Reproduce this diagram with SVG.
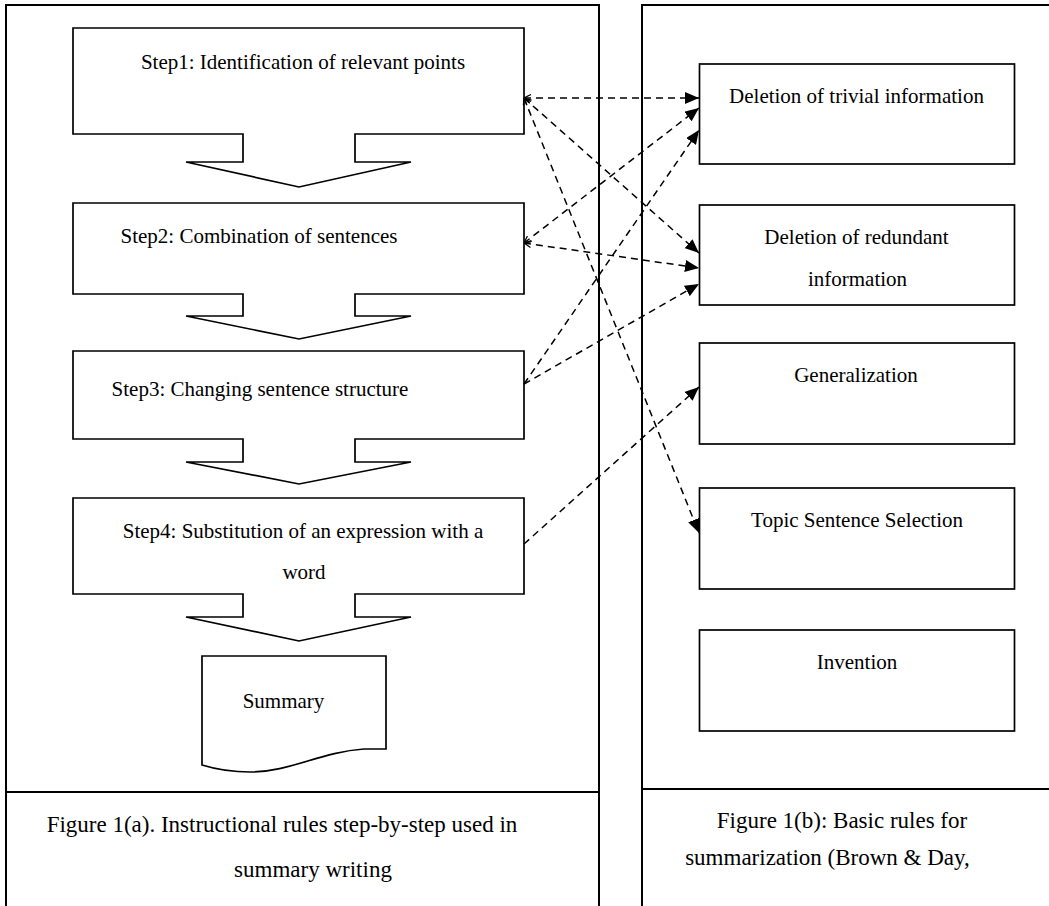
<svg xmlns="http://www.w3.org/2000/svg" width="1049" height="906" viewBox="0 0 1049 906">
<style>
.frame{fill:none;stroke:#000;stroke-width:2}
.shape{fill:#fff;stroke:#000;stroke-width:1.7;stroke-linejoin:miter}
.t{font-family:"Liberation Serif","Times New Roman",serif;font-size:21px;fill:#000;text-anchor:middle}
.cap{font-family:"Liberation Serif","Times New Roman",serif;font-size:23px;fill:#000;text-anchor:middle}
.dash{fill:none;stroke:#000;stroke-width:1.5;stroke-dasharray:7 5}
</style>
<defs>
<marker id="big" viewBox="0 0 14 12" refX="14" refY="6" markerWidth="14" markerHeight="12" markerUnits="userSpaceOnUse" orient="auto">
<path d="M0,0 L14,6 L0,12 Z" fill="#000"/>
</marker>
<marker id="small" viewBox="0 0 8 8" refX="0" refY="4" markerWidth="8" markerHeight="8" markerUnits="userSpaceOnUse" orient="auto">
<path d="M7,0.5 L0,4 L7,7.5" fill="none" stroke="#000" stroke-width="1.3"/>
</marker>
</defs>
<rect width="1049" height="906" fill="#fff"/>
<g id="panel-a">
<path class="frame" d="M6,906 V5 H599 V906 M6,792 H599"/>
</g>
<g id="panel-b">
<path class="frame" d="M642,906 V5 H1049 M642,789 H1049"/>
</g>
<g id="step1">
<path class="shape" d="M73,28 H524 V134 H355 V162 H411 L299,187 L186,162 H243 V134 H73 Z"/>
<text class="t" x="303" y="69">Step1: Identification of relevant points</text>
</g>
<g id="step2">
<path class="shape" d="M73,203 H524 V294 H355 V316 H411 L299,339 L186,316 H243 V294 H73 Z"/>
<text class="t" x="259" y="243">Step2: Combination of sentences</text>
</g>
<g id="step3">
<path class="shape" d="M73,351 H524 V439 H355 V462 H411 L299,484 L186,462 H243 V439 H73 Z"/>
<text class="t" x="260" y="396">Step3: Changing sentence structure</text>
</g>
<g id="step4">
<path class="shape" d="M73,498 H524 V594 H355 V617 H411 L299,641 L186,617 H243 V594 H73 Z"/>
<text class="t" x="303" y="538">Step4: Substitution of an expression with a</text>
<text class="t" x="304" y="579">word</text>
</g>
<g id="summary">
<path class="shape" d="M202,656 H386 V749 L364,749 C320,752 290,772 250,772 C230,772 215,769 202,765 Z"/>
<text class="t" x="283.5" y="708">Summary</text>
</g>
<g id="rule1">
<rect class="shape" x="699.5" y="64" width="315" height="100"/>
<text class="t" x="856.5" y="103">Deletion of trivial information</text>
</g>
<g id="rule2">
<rect class="shape" x="699.5" y="205" width="315" height="100"/>
<text class="t" x="856.5" y="244">Deletion of redundant</text>
<text class="t" x="857.5" y="286">information</text>
</g>
<g id="rule3">
<rect class="shape" x="699.5" y="343" width="315" height="101"/>
<text class="t" x="856" y="382">Generalization</text>
</g>
<g id="rule4">
<rect class="shape" x="699.5" y="488" width="315" height="101"/>
<text class="t" x="857" y="527">Topic Sentence Selection</text>
</g>
<g id="rule5">
<rect class="shape" x="699.5" y="630" width="315" height="101"/>
<text class="t" x="857" y="669">Invention</text>
</g>
<g id="caption-a">
<text class="cap" x="282" y="832">Figure 1(a). Instructional rules step-by-step used in</text>
<text class="cap" x="313" y="877">summary writing</text>
</g>
<g id="caption-b">
<text class="cap" x="842" y="828">Figure 1(b): Basic rules for</text>
<text class="cap" x="827.5" y="865">summarization (Brown &amp; Day,</text>
</g>
<g id="connectors">
<path class="dash" d="M524,98 L699,98" marker-start="url(#small)" marker-end="url(#big)"/>
<path class="dash" d="M524,98 L699,253" marker-start="url(#small)" marker-end="url(#big)"/>
<path class="dash" d="M524,98 L699,533" marker-start="url(#small)" marker-end="url(#big)"/>
<path class="dash" d="M524,243 L699,108" marker-start="url(#small)" marker-end="url(#big)"/>
<path class="dash" d="M524,243 L699,268" marker-start="url(#small)" marker-end="url(#big)"/>
<path class="dash" d="M524,384 L699,130" marker-end="url(#big)"/>
<path class="dash" d="M524,384 L699,284" marker-end="url(#big)"/>
<path class="dash" d="M524,544 L699,387" marker-end="url(#big)"/>
</g>
</svg>
